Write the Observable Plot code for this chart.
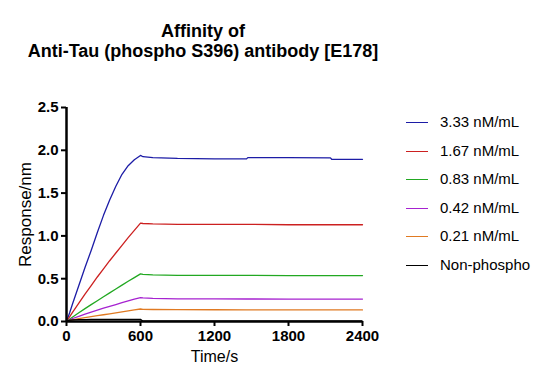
<!DOCTYPE html>
<html>
<head>
<meta charset="utf-8">
<script src="https://cdn.jsdelivr.net/npm/d3@7"></script>
<script src="https://cdn.jsdelivr.net/npm/@observablehq/plot@0.6"></script>
<style>
  body { margin: 0; background: white; font-family: "Liberation Sans", Arial, sans-serif; }
  #wrap { position: relative; width: 550px; height: 390px; }
  #title { position: absolute; left: 0; top: 21px; width: 406px; text-align: center; font-weight: bold; font-size: 18px; line-height: 20px; color: #000; }
  #legend { position: absolute; left: 406px; top: 108px; }
  .row { position: relative; height: 28.6px; }
  .sw { position: absolute; left: 0; top: 14px; width: 22px; height: 0; border-top: 1.5px solid; }
  .lb { position: absolute; left: 34px; top: 5px; font-size: 15px; line-height: 18px; white-space: nowrap; color: #000; }
  svg g[aria-label="x-axis tick label"] text, svg g[aria-label="y-axis tick label"] text { font-weight: bold; }
</style>
</head>
<body>
<div id="wrap">
  <div id="title"></div>
  <div id="legend"></div>
</div>
<script>
const titleLines = ["Affinity of", "Anti-Tau (phospho S396) antibody [E178]"];
const seriesNames = ["3.33 nM/mL", "1.67 nM/mL", "0.83 nM/mL", "0.42 nM/mL", "0.21 nM/mL", "Non-phospho"];
const seriesColors = ["#1c1ca6", "#cc2020", "#22a822", "#a622d0", "#e07a22", "#000000"];
const xTicks = [0, 600, 1200, 1800, 2400];
const yTicks = [0, 0.5, 1.0, 1.5, 2.0, 2.5];
const times = [0, 25, 50, 100, 150, 200, 250, 300, 350, 400, 450, 500, 550, 600, 620, 700, 900, 1200, 1460, 1470, 1800, 2140, 2150, 2400];
const s333 = [0, 0.10, 0.21, 0.42, 0.63, 0.83, 1.04, 1.24, 1.42, 1.58, 1.72, 1.82, 1.89, 1.94, 1.925, 1.915, 1.905, 1.90, 1.90, 1.915, 1.915, 1.912, 1.895, 1.895];
const s167 = [0, 0.055, 0.11, 0.215, 0.32, 0.42, 0.52, 0.615, 0.71, 0.80, 0.89, 0.98, 1.065, 1.15, 1.145, 1.14, 1.135, 1.135, 1.135, 1.135, 1.13, 1.13, 1.13, 1.13];
const s083 = [0, 0.027, 0.053, 0.103, 0.15, 0.197, 0.243, 0.29, 0.335, 0.38, 0.425, 0.47, 0.513, 0.556, 0.55, 0.545, 0.54, 0.54, 0.54, 0.54, 0.537, 0.537, 0.537, 0.537];
const s042 = [0, 0.02, 0.035, 0.06, 0.085, 0.11, 0.132, 0.155, 0.177, 0.198, 0.22, 0.24, 0.26, 0.28, 0.275, 0.27, 0.265, 0.265, 0.263, 0.263, 0.262, 0.262, 0.262, 0.262];
const s021 = [0, 0.012, 0.02, 0.033, 0.045, 0.057, 0.068, 0.079, 0.09, 0.101, 0.112, 0.123, 0.135, 0.146, 0.142, 0.14, 0.138, 0.137, 0.136, 0.136, 0.135, 0.135, 0.135, 0.135];
const sNon = [0, 0.015, 0.02, 0.022, 0.023, 0.024, 0.024, 0.025, 0.025, 0.025, 0.025, 0.025, 0.025, 0.025, 0.004, 0.004, 0.004, 0.004, 0.004, 0.004, 0.004, 0.004, 0.004, 0.004];
const seriesValues = [s333, s167, s083, s042, s021, sNon];

document.getElementById("title").innerHTML = titleLines.join("<br>");

const data = [];
seriesNames.forEach((name, i) => {
  times.forEach((t, j) => data.push({series: name, t, v: seriesValues[i][j]}));
});

const chart = Plot.plot({
  width: 550,
  height: 390,
  marginLeft: 66,
  marginRight: 188,
  marginTop: 107,
  marginBottom: 69,
  style: {fontFamily: "'Liberation Sans', Arial, sans-serif", background: "transparent", color: "#000"},
  x: {domain: [0, 2400]},
  y: {domain: [0, 2.5]},
  color: {domain: seriesNames, range: seriesColors},
  marks: [
    Plot.line(data, {x: "t", y: "v", z: "series", stroke: "series", strokeWidth: 1.3}),
    Plot.axisX({ticks: xTicks, tickSize: 5, strokeWidth: 2, tickPadding: 4, fontSize: 15, fontWeight: "bold", tickFormat: d3.format("d"), label: null}),
    Plot.axisY({ticks: yTicks, tickSize: 5, strokeWidth: 2, tickPadding: 3, fontSize: 15, fontWeight: "bold", tickFormat: d3.format(".1f"), label: null}),
    Plot.ruleX([0], {strokeWidth: 2.5}),
    Plot.ruleY([0], {strokeWidth: 2.5}),
    Plot.text(["Response/nm"], {frameAnchor: "left", dx: -41, rotate: -90, textAnchor: "middle", fontSize: 17, text: d => d}),
    Plot.text(["Time/s"], {frameAnchor: "bottom", dy: 40, textAnchor: "middle", fontSize: 16, text: d => d})
  ]
});
chart.style.position = "absolute";
chart.style.left = "0px";
chart.style.top = "0px";
document.getElementById("wrap").prepend(chart);

const legend = document.getElementById("legend");
seriesNames.forEach((name, i) => {
  const row = document.createElement("div");
  row.className = "row";
  const sw = document.createElement("div");
  sw.className = "sw";
  sw.style.borderTopColor = seriesColors[i];
  const lb = document.createElement("div");
  lb.className = "lb";
  lb.textContent = name;
  row.appendChild(sw);
  row.appendChild(lb);
  legend.appendChild(row);
});
</script>
</body>
</html>
